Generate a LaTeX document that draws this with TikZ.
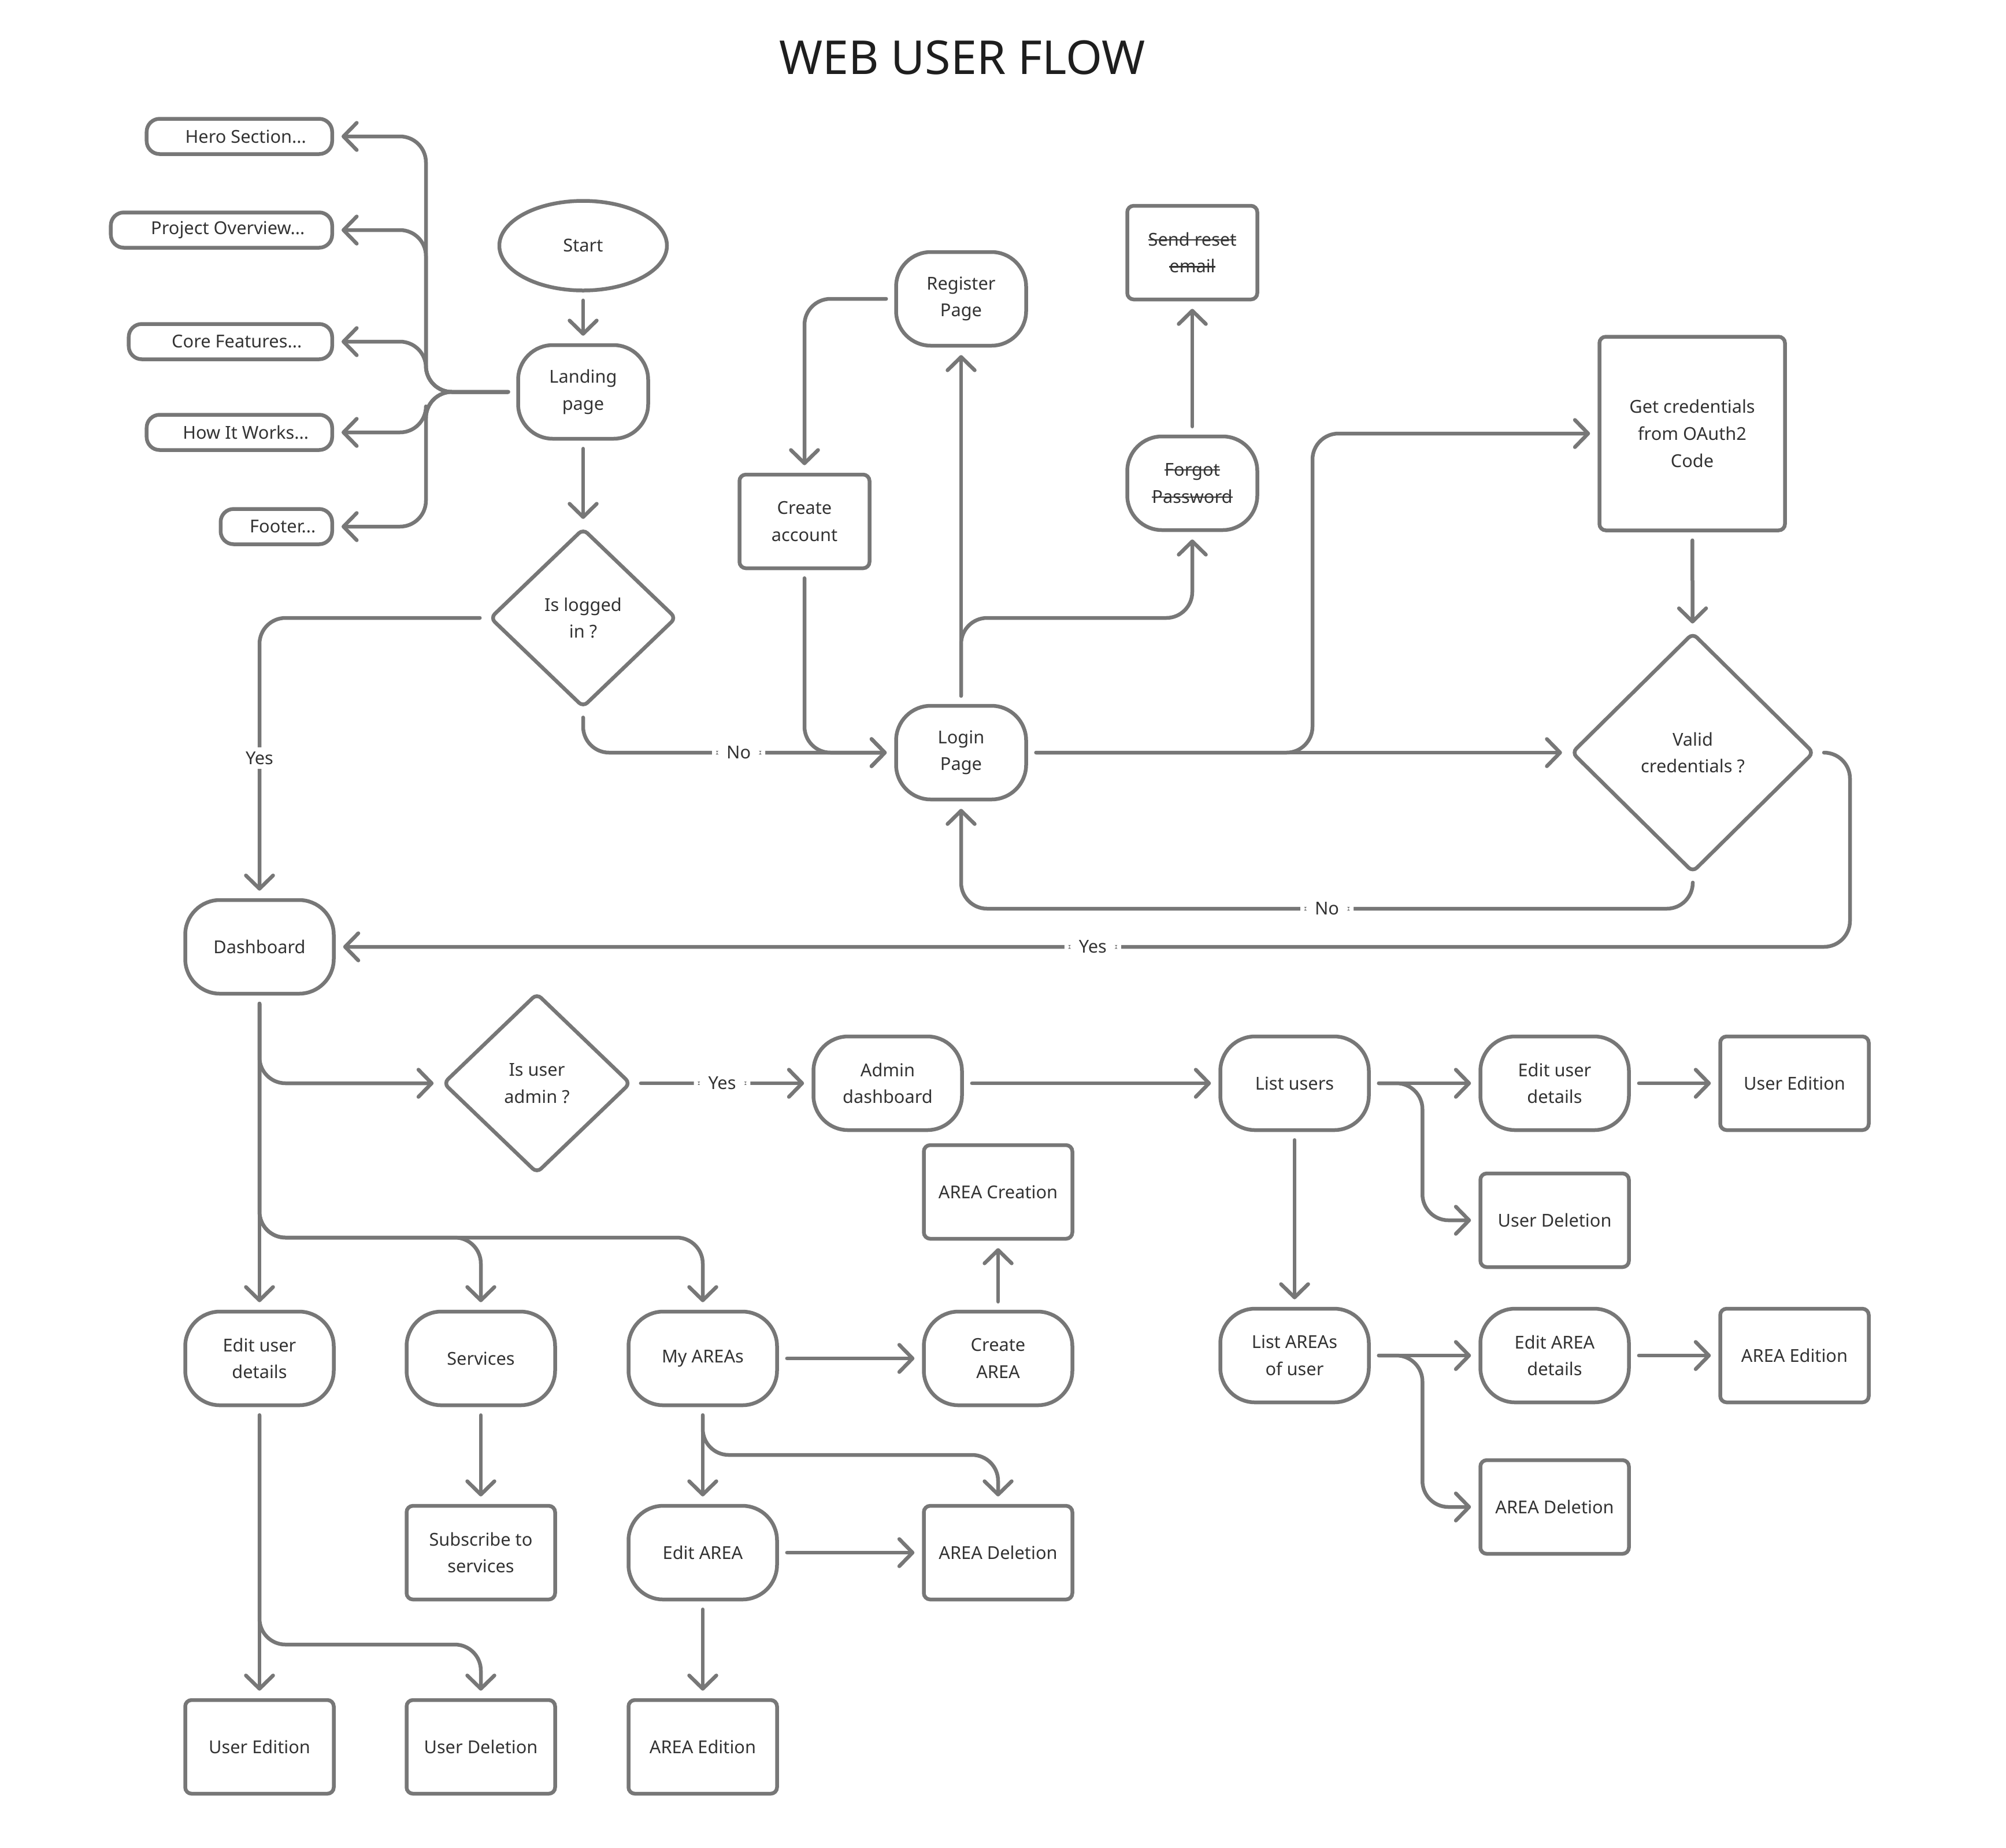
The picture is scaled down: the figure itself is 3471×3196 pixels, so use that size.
\documentclass[tikz,border=0pt]{standalone}
\usepackage{fontspec}
\setmainfont{Noto Sans}
\usetikzlibrary{arrows.meta,shapes.geometric}

\definecolor{flowline}{HTML}{777777}
\definecolor{flowtext}{HTML}{333333}
\definecolor{flowtitle}{HTML}{1E1E1E}

% testo barrato
\newcommand{\strikeword}[1]{\leavevmode\setbox0=\hbox{#1}\rlap{\rule[0.3em]{\wd0}{0.07em}}\box0}

\tikzset{
	every node/.style={font=\fontsize{17.5}{26.5}\selectfont, text=flowtext},
	box/.style={draw=flowline, line width=1.3mm, fill=white, align=center, inner sep=0pt, minimum height=32.4mm},
	page/.style={box, rounded corners=12mm, minimum width=45mm},
	pagewide/.style={box, rounded corners=12mm, minimum width=51.4mm},
	action/.style={box, rounded corners=2.2mm, minimum width=51.4mm},
	actionnarrow/.style={box, rounded corners=2.2mm, minimum width=45mm},
	section/.style={box, rounded corners=4.5mm, minimum height=12.2mm, anchor=east, execute at begin node={\hspace*{4.4mm}}},
	terminal/.style={box, ellipse, minimum width=58mm, minimum height=31mm},
	decision/.style={box, diamond, rounded corners=2mm},
	flow/.style={draw=flowline, line width=1.3mm, line cap=round, line join=round, rounded corners=9mm,
		shorten <=2.8mm, shorten >=2.6mm, -{Straight Barb[length=4.6mm,width=9.4mm,round]}},
	lbl/.style={fill=white, inner xsep=5mm, inner ysep=1.5mm},
}

\begin{document}
\begin{tikzpicture}[x=0.2mm, y=-0.2mm]
	\useasboundingbox (0,0) rectangle (3471,3196);
	
	% titolo
	\node[font=\fontsize{46}{50}\selectfont, text=flowtitle] (title) at (1665,100) {WEB USER FLOW};
	
	% sezioni della landing
	\node[section, minimum width=64.2mm] (hero) at (578,236) {Hero Section...};
	\node[section, minimum width=76.6mm] (overview) at (578,398) {Project Overview...};
	\node[section, minimum width=70.4mm] (features) at (578,591) {Core Features...};
	\node[section, minimum width=64.2mm] (howto) at (578,748) {How It Works...};
	\node[section, minimum width=38.6mm] (footer) at (578,911) {Footer...};
	
	% accesso
	\node[terminal] (start) at (1009,425) {Start};
	\node[page] (landing) at (1009,678) {Landing\\page};
	\node[decision, minimum width=64.6mm, minimum height=62mm] (islogged) at (1009,1069) {Is logged\\in ?};
	\node[page] (register) at (1663,517) {Register\\Page};
	\node[actionnarrow] (create) at (1392,902) {Create\\account};
	\node[page] (login) at (1663,1302) {Login\\Page};
	\node[page] (forgot) at (2063,836) {\strikeword{Forgot}\\\strikeword{Password}};
	\node[actionnarrow] (reset) at (2063,437) {\strikeword{Send reset}\\\strikeword{email}};
	\node[action, minimum width=64.2mm, minimum height=67mm] (oauth) at (2928,750) {Get credentials\\from OAuth2\\Code};
	\node[decision, minimum width=84mm, minimum height=83mm] (valid) at (2929,1302) {Valid\\credentials ?};
	
	% dashboard e admin
	\node[pagewide] (dash) at (449,1638) {Dashboard};
	\node[decision, minimum width=65mm, minimum height=62.4mm] (isadmin) at (929,1874) {Is user\\admin ?};
	\node[pagewide] (admin) at (1536,1874) {Admin\\dashboard};
	\node[pagewide] (listusers) at (2240,1874) {List users};
	\node[pagewide] (edituserR) at (2690,1874) {Edit user\\details};
	\node[action] (usereditR) at (3105,1874) {User Edition};
	\node[action] (userdelR) at (2690,2111) {User Deletion};
	\node[pagewide] (listareas) at (2240,2345) {List AREAs\\of user};
	\node[pagewide] (editareaR) at (2690,2345) {Edit AREA\\details};
	\node[action] (areaeditR) at (3105,2345) {AREA Edition};
	\node[action] (areadelR) at (2690,2607) {AREA Deletion};
	
	% utente
	\node[pagewide] (edituser) at (449,2350) {Edit user\\details};
	\node[pagewide] (services) at (832,2350) {Services};
	\node[pagewide] (myareas) at (1216,2350) {My AREAs};
	\node[pagewide] (createarea) at (1727,2350) {Create\\AREA};
	\node[action] (areacreation) at (1727,2062) {AREA Creation};
	\node[action] (subscribe) at (832,2686) {Subscribe to\\services};
	\node[pagewide] (editarea) at (1216,2686) {Edit AREA};
	\node[action] (areadel) at (1727,2686) {AREA Deletion};
	\node[action] (useredit) at (449,3022) {User Edition};
	\node[action] (userdel) at (832,3022) {User Deletion};
	\node[action] (areaedit) at (1216,3022) {AREA Edition};
	
	% frecce
	\coordinate (trunk) at (737,678);
	\foreach \s in {hero,overview,features,howto,footer}
		\draw[flow] (landing.west) -| (trunk |- \s.east) -- (\s.east);
	\draw[flow] (start) -- (landing);
	\draw[flow] (landing) -- (islogged);
	\draw[flow] (islogged.west) -| node[lbl, pos=0.75] {Yes} (dash.north);
	\draw[flow] (islogged.south) |- node[lbl, pos=0.75] {No} (login.west);
	\draw[flow] (create.south) |- (login.west);
	\draw[flow] (register.west) -| (create.north);
	\draw[flow] (login) -- (register);
	\draw[flow] (login.north) -- (login.north |- islogged) -| (forgot.south);
	\draw[flow] (forgot) -- (reset);
	\coordinate (oauthbend) at (2271,750);
	\draw[flow] (login.east) -| (oauthbend) -- (oauth.west);
	\draw[flow] (login) -- (valid);
	\draw[flow] (oauth) -- (valid);
	\coordinate (noback) at (1663,1572);
	\draw[flow] (valid.south) |- node[lbl, pos=0.75] {No} (noback) -- (login.south);
	\coordinate (yesbend) at (3201,1638);
	\draw[flow] (valid.east) -| (yesbend) -- node[lbl] {Yes} (dash.east);
	
	\draw[flow] (dash) -- (edituser);
	\draw[flow] (dash.south) |- (isadmin.west);
	\coordinate (split) at (449,2141);
	\draw[flow] (dash.south) -- (split) -| (services.north);
	\draw[flow] (dash.south) -- (split) -| (myareas.north);
	\draw[flow] (isadmin) -- node[lbl] {Yes} (admin);
	\draw[flow] (admin) -- (listusers);
	\draw[flow] (listusers) -- (edituserR);
	\draw[flow] (listusers.east) -| ([xshift=-19.4mm]userdelR.west) -- (userdelR.west);
	\draw[flow] (edituserR) -- (usereditR);
	\draw[flow] (listusers) -- (listareas);
	\draw[flow] (listareas) -- (editareaR);
	\draw[flow] (listareas.east) -| ([xshift=-19.4mm]areadelR.west) -- (areadelR.west);
	\draw[flow] (editareaR) -- (areaeditR);
	
	\draw[flow] (edituser) -- (useredit);
	\coordinate (split2) at (449,2845);
	\draw[flow] (edituser.south) -- (split2) -| (userdel.north);
	\draw[flow] (services) -- (subscribe);
	\draw[flow] (myareas) -- (createarea);
	\draw[flow] (createarea) -- (areacreation);
	\draw[flow] (myareas) -- (editarea);
	\coordinate (split3) at (1216,2517);
	\draw[flow] (myareas.south) -- (split3) -| (areadel.north);
	\draw[flow] (editarea) -- (areadel);
	\draw[flow] (editarea) -- (areaedit);
\end{tikzpicture}
\end{document}
